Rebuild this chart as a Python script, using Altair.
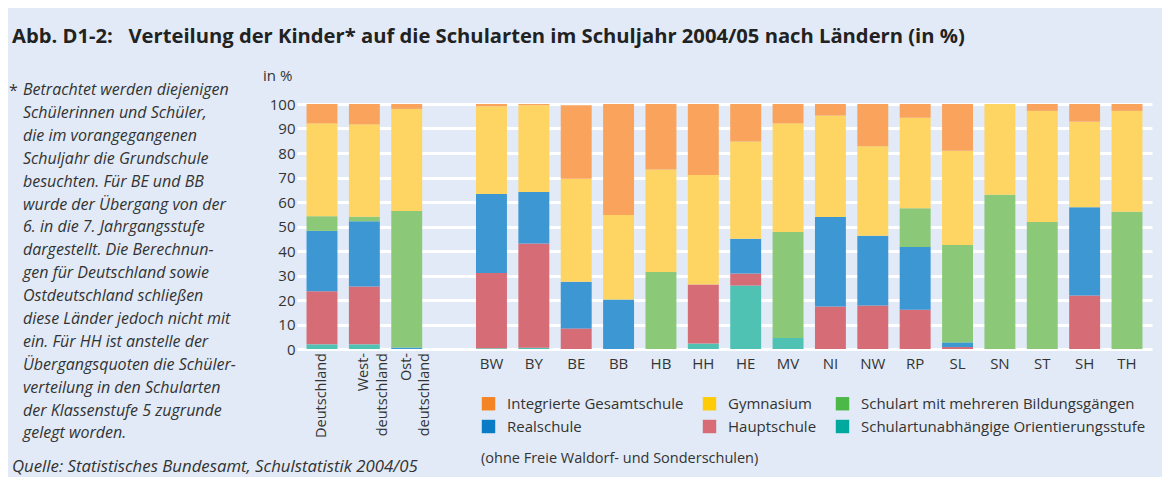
import altair as alt
import pandas as pd

# ---------------- data ----------------
countries = ["Deutschland", "Westdeutschland", "Ostdeutschland",
             "BW", "BY", "BE", "BB", "HB", "HH", "HE", "MV",
             "NI", "NW", "RP", "SL", "SN", "ST", "SH", "TH"]
x_domain = ["Deutschland", "Westdeutschland", "Ostdeutschland", "gap",
            "BW", "BY", "BE", "BB", "HB", "HH", "HE", "MV",
            "NI", "NW", "RP", "SL", "SN", "ST", "SH", "TH"]
laender = ["BW", "BY", "BE", "BB", "HB", "HH", "HE", "MV",
           "NI", "NW", "RP", "SL", "SN", "ST", "SH", "TH"]
group_keys = ["Deutschland", "Westdeutschland", "Ostdeutschland"]
group_labels = ["Deutschland", "West-\ndeutschland", "Ost-\ndeutschland"]

orientierungsstufe = [1.9, 1.9, 0.0, 0.3, 0.5, 0.0, 0.0, 0.0, 2.2, 25.9, 4.5, 0.0, 0.0, 0.0, 0.0, 0.0, 0.0, 0.0, 0.0]
hauptschule = [21.7, 23.6, 0.0, 30.7, 42.6, 8.4, 0.0, 0.0, 24.1, 4.9, 0.0, 17.3, 17.8, 16.0, 0.8, 0.0, 0.0, 21.8, 0.0]
realschule = [24.6, 26.6, 0.6, 32.3, 21.0, 19.1, 20.2, 0.0, 0.0, 14.2, 0.0, 36.6, 28.4, 25.6, 1.9, 0.0, 0.0, 36.1, 0.0]
mehrere = [6.0, 1.9, 55.7, 0.0, 0.0, 0.0, 0.0, 31.4, 0.0, 0.0, 43.3, 0.0, 0.0, 15.9, 39.7, 63.0, 51.8, 0.0, 56.0]
gymnasium = [37.9, 37.7, 41.7, 35.8, 35.4, 42.0, 34.5, 41.9, 44.7, 39.7, 44.3, 41.4, 36.6, 36.9, 38.5, 37.0, 45.4, 34.9, 41.2]
gesamtschule = [7.9, 8.3, 2.0, 0.9, 0.5, 30.0, 45.3, 26.7, 29.0, 15.3, 7.9, 4.7, 17.2, 5.6, 19.1, 0.0, 2.8, 7.2, 2.8]

# stacking order (bottom -> top)
stack_types = ["Schulartunabhängige Orientierungsstufe", "Hauptschule", "Realschule",
               "Schulart mit mehreren Bildungsgängen", "Gymnasium", "Integrierte Gesamtschule"]
stack_values = [orientierungsstufe, hauptschule, realschule, mehrere, gymnasium, gesamtschule]
bar_colors = ["#4fc2b4", "#d56c76", "#3d97d3", "#8bc979", "#fed463", "#f9a35c"]

# legend order (row-major, 3 columns)
legend_types = ["Integrierte Gesamtschule", "Gymnasium", "Schulart mit mehreren Bildungsgängen",
                "Realschule", "Hauptschule", "Schulartunabhängige Orientierungsstufe"]
legend_colors = ["#f58426", "#ffcb05", "#4cb848", "#0a7bc5", "#d86b75", "#00a99d"]

title_text = "Abb. D1-2:\u00a0\u00a0 Verteilung der Kinder* auf die Schularten im Schuljahr 2004/05 nach Ländern (in %)"
note_lines = ["Betrachtet werden diejenigen", "Schülerinnen und Schüler,", "die im vorangegangenen",
              "Schuljahr die Grundschule", "besuchten. Für BE und BB", "wurde der Übergang von der",
              "6. in die 7. Jahrgangsstufe", "dargestellt. Die Berechnun-", "gen für Deutschland sowie",
              "Ostdeutschland schließen", "diese Länder jedoch nicht mit", "ein. Für HH ist anstelle der",
              "Übergangsquoten die Schüler-", "verteilung in den Schularten", "der Klassenstufe 5 zugrunde",
              "gelegt worden."]
source_text = "Quelle: Statistisches Bundesamt, Schulstatistik 2004/05"
extra_note = "(ohne Freie Waldorf- und Sonderschulen)"

# ---------------- tables ----------------
rows = []
for k, (t, vals) in enumerate(zip(stack_types, stack_values)):
    for c, v in zip(countries, vals):
        if v > 0:
            rows.append({"land": c, "type": t, "value": v, "ord": k})
df = pd.DataFrame(rows)
df_laender = pd.DataFrame({"land": laender})
df_groups = pd.DataFrame({"land": group_keys, "label": group_labels})
df_note = pd.DataFrame({"t": ["\n".join(note_lines)]})
df_star = pd.DataFrame({"t": ["*"]})
df_src = pd.DataFrame({"t": [source_text]})
df_extra = pd.DataFrame({"t": [extra_note]})
df_inpct = pd.DataFrame({"t": ["in %"]})

TXT = "#333333"
SANS = "Open Sans, Liberation Sans, sans-serif"

xscale = alt.Scale(domain=x_domain, paddingInner=0.27, paddingOuter=0.225)

bars = alt.Chart(df).mark_bar(strokeWidth=0).encode(
    x=alt.X("land:N", scale=xscale, sort=x_domain,
            axis=alt.Axis(labels=False, ticks=False, domain=False, title=None, grid=False)),
    y=alt.Y("value:Q", stack="zero", scale=alt.Scale(domain=[0, 100], nice=False),
            axis=alt.Axis(values=list(range(0, 101, 10)), grid=True, gridColor="white",
                          gridWidth=3, gridOpacity=1, domain=False, ticks=False,
                          labelFontSize=15, labelFont=SANS, labelColor=TXT, labelPadding=2,
                          title=None)),
    color=alt.Color("type:N", scale=alt.Scale(domain=stack_types, range=bar_colors), legend=None),
    order=alt.Order("ord:Q", sort="ascending"),
)

legend_layer = alt.Chart(df).transform_filter("false").mark_square(opacity=1).encode(
    fill=alt.Fill("type:N", scale=alt.Scale(domain=legend_types, range=legend_colors),
                  legend=alt.Legend(orient="none", legendX=184, legendY=292, columns=3,
                                    title=None, symbolType="square", symbolSize=180,
                                    symbolStrokeWidth=0, symbolOpacity=1,
                                    labelFontSize=15, labelFont=SANS,
                                    labelColor=TXT, labelOffset=11, rowPadding=7,
                                    columnPadding=18, padding=0, labelLimit=400,
                                    direction="horizontal")),
)

land_labels = alt.Chart(df_laender).mark_text(
    fontSize=15, font=SANS, color=TXT, baseline="middle", align="center"
).encode(x=alt.X("land:N", scale=xscale, axis=None), y=alt.value(260), text="land:N")

group_text = alt.Chart(df_groups).mark_text(
    fontSize=14.5, font=SANS, color=TXT, angle=270, align="right", baseline="middle",
    lineBreak="\n", lineHeight=18.5
).encode(x=alt.X("land:N", scale=xscale, axis=None), y=alt.value(249), text="label:N")

note = alt.Chart(df_note).mark_text(
    fontSize=16, font=SANS, fontStyle="italic", color=TXT, align="left", baseline="top",
    lineBreak="\n", lineHeight=22.9
).encode(x=alt.value(-274), y=alt.value(-22), text="t:N")

star = alt.Chart(df_star).mark_text(
    fontSize=16, font=SANS, color=TXT, align="left", baseline="top"
).encode(x=alt.value(-288), y=alt.value(-21), text="t:N")

source = alt.Chart(df_src).mark_text(
    fontSize=16.8, font=SANS, fontStyle="italic", color=TXT, align="left", baseline="middle"
).encode(x=alt.value(-285), y=alt.value(363), text="t:N")

extra = alt.Chart(df_extra).mark_text(
    fontSize=14.5, font=SANS, color=TXT, align="left", baseline="middle"
).encode(x=alt.value(184), y=alt.value(355), text="t:N")

inpct = alt.Chart(df_inpct).mark_text(
    fontSize=15, font=SANS, color=TXT, align="left", baseline="middle"
).encode(x=alt.value(-34), y=alt.value(-28), text="t:N")

chart = alt.layer(
    bars, legend_layer, land_labels, group_text, note, star, source, extra, inpct
).properties(
    width=855, height=245,
    padding={"left": 289, "top": 96, "right": 10, "bottom": 128},
    autosize=alt.AutoSizeParams(type="none"),
    title=alt.TitleParams(title_text, anchor="start", frame="group", orient="top",
                          dx=-285, dy=-12, offset=0, fontSize=20.2,
                          font="Open Sans, Liberation Sans, sans-serif", fontWeight="bold",
                          color="#222222", baseline="middle"),
).configure(background="#e1eaf6").configure_view(stroke=None)

chart.save("out.html", embed_options={"renderer": "svg", "actions": False})
